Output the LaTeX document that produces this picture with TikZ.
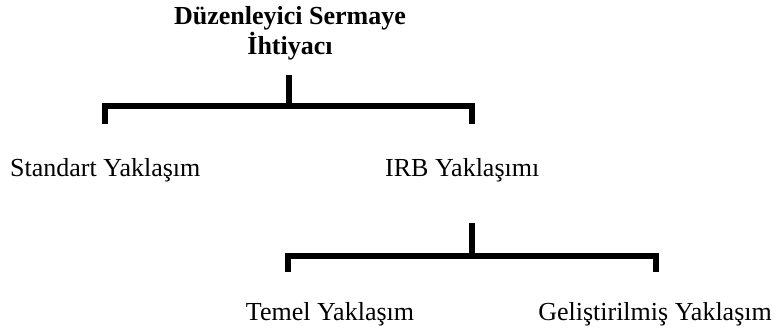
\documentclass[tikz,border=0pt]{standalone}
\usepackage{fontspec}
\setmainfont{Liberation Serif}
\tikzset{
  lbl/.style={inner sep=0pt, font=\fontsize{26}{30}\selectfont},
  ttl/.style={inner sep=0pt, font=\fontsize{26}{30}\selectfont\bfseries},
  conn/.style={line width=6pt, line join=miter, line cap=butt, draw=black}
}
\begin{document}
\begin{tikzpicture}[x=1pt,y=1pt]
\useasboundingbox (0,0) rectangle (776,-334);
% title
\node[ttl, anchor=base] (t1) at (290,-25) {Düzenleyici Sermaye};
\node[ttl, anchor=base] (t2) at (290,-55) {İhtiyacı};
% first level
\node[lbl, anchor=base west] (std) at (10,-176) {Standart Yaklaşım};
\node[lbl, anchor=base west] (irb) at (385,-176) {IRB Yaklaşımı};
% second level
\node[lbl, anchor=base] (tem) at (330,-320) {Temel Yaklaşım};
\node[lbl, anchor=base east] (gel) at (772,-320) {Geliştirilmiş Yaklaşım};
% connectors
\coordinate (s1) at (289,-75);
\coordinate (j1) at (289,-106.5);
\coordinate (l1) at (105,-124);
\coordinate (r1) at (472,-124);
\draw[conn] (s1) -- (j1);
\draw[conn] (l1) |- (j1) -| (r1);
\coordinate (s2) at (472,-223);
\coordinate (j2) at (472,-256);
\coordinate (l2) at (288,-272);
\coordinate (r2) at (656,-272);
\draw[conn] (s2) -- (j2);
\draw[conn] (l2) |- (j2) -| (r2);
\end{tikzpicture}
\end{document}
